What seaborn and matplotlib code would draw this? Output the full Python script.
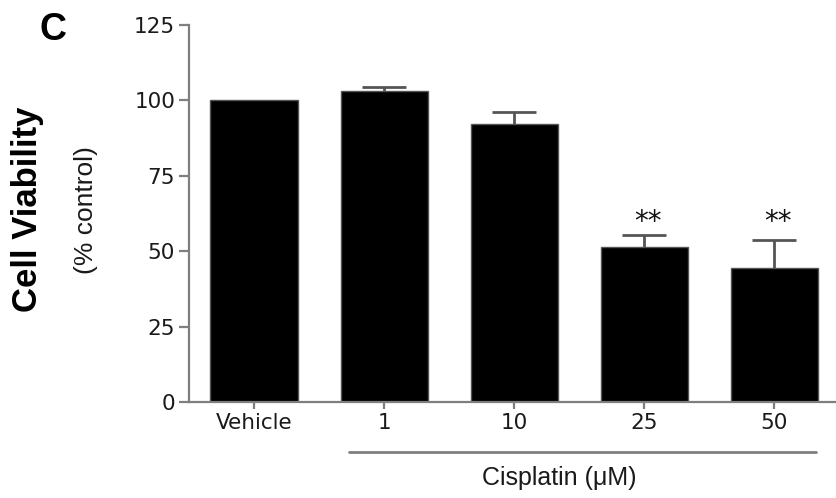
import matplotlib
matplotlib.use("Agg")
import matplotlib.pyplot as plt
import matplotlib.transforms as mtransforms
import seaborn as sns
import pandas as pd
import numpy as np

# ---- data ----
categories = ["Vehicle", "1", "10", "25", "50"]
viability = [100.0, 103.0, 92.2, 51.3, 44.5]
sem_upper = [0.0, 1.5, 4.0, 4.2, 9.1]
significance = ["", "", "", "**", "**"]
y_ticks = [0, 25, 50, 75, 100, 125]
star_level = 59.8

df = pd.DataFrame({"group": categories, "value": viability})

sns.set_theme(style="ticks")
plt.rcParams["font.family"] = ["Liberation Sans", "DejaVu Sans"]

fig = plt.figure(figsize=(8.36, 4.98), dpi=100)
ax = fig.add_axes([189 / 836, 1 - 402 / 498, (836 - 189) / 836, (402 - 25) / 498])

grey = "#7f7f7f"
sns.barplot(data=df, x="group", y="value", order=categories, color="black",
            width=0.67, edgecolor="#555555", linewidth=1.0, ax=ax, saturation=1)

xpos = np.arange(len(categories))
sem_arr = np.array(sem_upper)
has_err = sem_arr > 0
eb = ax.errorbar(xpos[has_err], np.array(viability)[has_err],
                 yerr=[np.zeros(has_err.sum()), sem_arr[has_err]],
                 fmt="none", ecolor="#555555", elinewidth=2.0, capsize=15.8,
                 capthick=2.0, zorder=3)
# hide the lower caps (they sit on the bar tops)
eb[1][0].set_visible(False)

for x, s in zip(xpos, significance):
    if s:
        ax.text(x + 0.03, star_level, s, ha="center", va="center",
                fontsize=20, family="DejaVu Sans", color="#111111")

ax.set_xlim(-0.5, 4.475)
ax.set_ylim(0, 125)
ax.set_yticks(y_ticks)
ax.set_yticklabels([str(t) for t in y_ticks])
ax.set_xlabel("")
ax.set_ylabel("")

for side in ["top", "right"]:
    ax.spines[side].set_visible(False)
for side in ["left", "bottom"]:
    ax.spines[side].set_color(grey)
    ax.spines[side].set_linewidth(1.6)

ax.tick_params(axis="y", length=7, width=1.6, color=grey, pad=3,
               labelsize=15.5, labelcolor="#1a1a1a")
ax.tick_params(axis="x", length=5, width=1.6, color=grey, pad=3,
               labelsize=15.5, labelcolor="#1a1a1a")
for lab in ax.get_xticklabels() + ax.get_yticklabels():
    lab.set_family("DejaVu Sans")

# bracket for cisplatin groups
trans = mtransforms.blended_transform_factory(ax.transData, fig.transFigure)
ax.plot([0.73, 4.32], [1 - 452 / 498, 1 - 452 / 498], color=grey, lw=2.0,
        transform=trans, clip_on=False)
ax.text(2.345, 1 - 478 / 498, "Cisplatin (μM)", transform=trans,
        ha="center", va="center", fontsize=18, color="#1a1a1a")

fig.text(28 / 836, 1 - 209 / 498, "Cell Viability", rotation=90, ha="center",
         va="center", fontsize=25, fontweight="bold", color="black")
fig.text(86 / 836, 1 - 210 / 498, "(% control)", rotation=90, ha="center",
         va="center", fontsize=19, color="#1a1a1a")
fig.text(53 / 836, 1 - 30 / 498, "C", ha="center", va="center",
         fontsize=27, fontweight="bold", color="black")

fig.savefig("out.png", dpi=100, facecolor="white")
